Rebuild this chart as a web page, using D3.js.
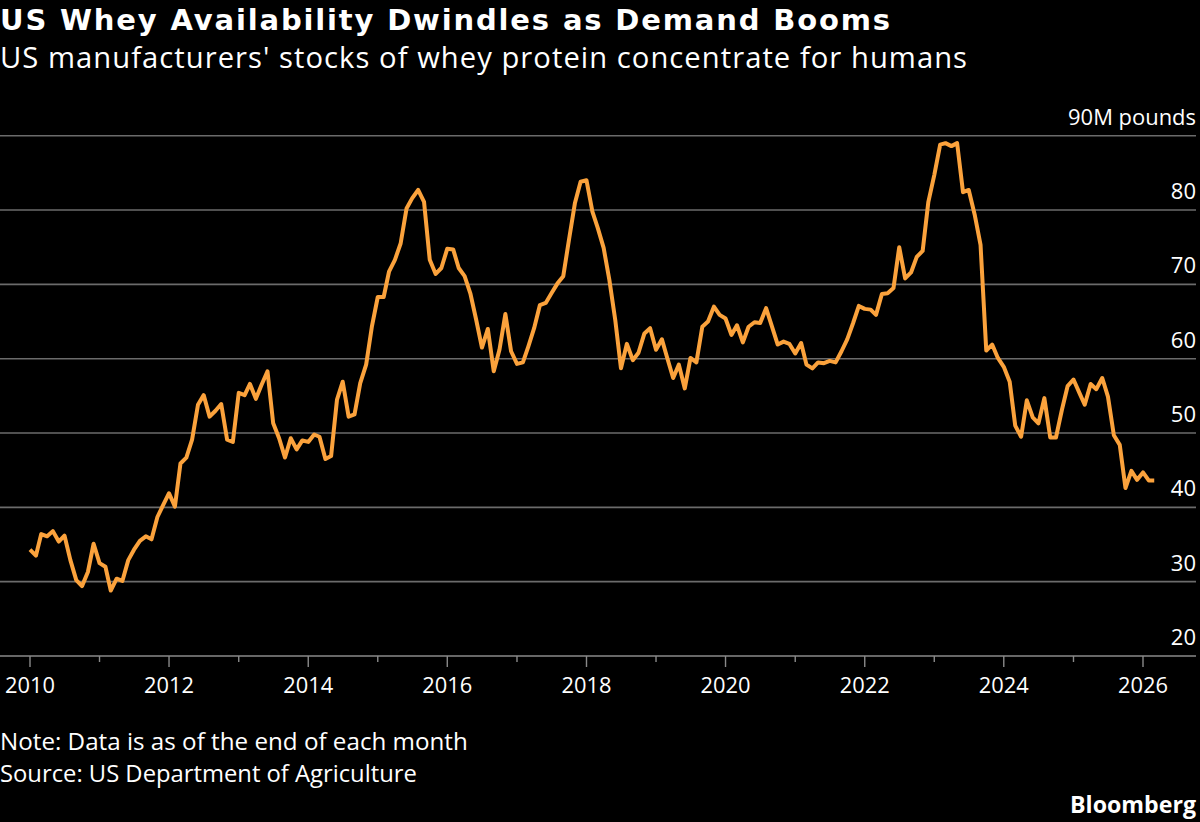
<!DOCTYPE html>
<html>
<head>
<meta charset="utf-8">
<script src="https://cdn.jsdelivr.net/npm/d3@7"></script>
<style>
  html, body { margin: 0; padding: 0; background: #000; }
  svg { display: block; }
  text { font-family: "Open Sans", "Noto Sans", sans-serif; fill: #fff; }
</style>
</head>
<body>
<svg id="chart" width="1200" height="822"></svg>
<script>
// ---- Data (month-end stocks, million pounds), monthly from Jan 2010 ----
const startYear = 2010;
const stocks = [
  34.3, 33.5, 36.4, 36.1, 36.8, 35.4, 36.2, 32.9, 30.2, 29.4, 31.3, 35.1,
  32.5, 32.0, 28.8, 30.4, 30.1, 32.9, 34.3, 35.5, 36.1, 35.7, 38.7, 40.3,
  41.9, 40.1, 45.9, 46.7, 49.1, 53.8, 55.1, 52.2, 53.0, 53.9, 49.1, 48.8,
  55.4, 55.1, 56.6, 54.6, 56.5, 58.3, 51.3, 49.3, 46.7, 49.3, 47.8, 49.0,
  48.8, 49.8, 49.5, 46.5, 46.9, 54.5, 56.9, 52.2, 52.5, 56.7, 59.2, 64.3,
  68.3, 68.3, 71.7, 73.3, 75.5, 80.2, 81.6, 82.7, 81.1, 73.3, 71.4, 72.2,
  74.8, 74.7, 72.2, 71.1, 68.8, 65.2, 61.5, 64.0, 58.3, 61.2, 66.0, 61.0,
  59.3, 59.5, 61.6, 64.1, 67.2, 67.5, 68.8, 70.1, 71.1, 76.0, 80.9, 83.8,
  84.0, 79.8, 77.6, 74.9, 70.6, 65.2, 58.7, 62.0, 59.8, 60.8, 63.4, 64.1,
  61.2, 62.6, 60.1, 57.4, 59.2, 56.0, 60.1, 59.5, 64.3, 65.0, 67.0, 65.9,
  65.4, 63.2, 64.5, 62.2, 64.3, 64.9, 64.8, 66.8, 64.3, 61.9, 62.3, 62.0,
  60.7, 62.1, 59.2, 58.7, 59.5, 59.4, 59.7, 59.5, 61.0, 62.6, 64.8, 67.1,
  66.7, 66.6, 65.9, 68.7, 68.8, 69.5, 75.0, 70.8, 71.6, 73.7, 74.5, 81.1,
  84.7, 88.8, 89.0, 88.6, 89.0, 82.4, 82.7, 79.4, 75.3, 61.1, 61.9, 60.1,
  58.9, 56.9, 51.0, 49.5, 54.4, 52.1, 51.3, 54.7, 49.4, 49.4, 53.1, 56.3,
  57.2, 55.4, 53.8, 56.6, 55.9, 57.4, 54.9, 49.7, 48.4, 42.6, 44.9, 43.7,
  44.7, 43.6, 43.6
];
const xTickYears = [2010, 2011, 2012, 2013, 2014, 2015, 2016, 2017, 2018, 2019, 2020, 2021, 2022, 2023, 2024, 2025, 2026];
const xLabelYears = [2010, 2012, 2014, 2016, 2018, 2020, 2022, 2024, 2026];
const yTicks = [20, 30, 40, 50, 60, 70, 80, 90];
const yTickLabels = ["20", "30", "40", "50", "60", "70", "80", "90M pounds"];

const titleText = "US Whey Availability Dwindles as Demand Booms";
const subtitleText = "US manufacturers' stocks of whey protein concentrate for humans";
const noteText = "Note: Data is as of the end of each month";
const sourceText = "Source: US Department of Agriculture";
const brandText = "Bloomberg";

// ---- Build ----
const data = stocks.map((v, i) => ({ date: new Date(startYear, i, 1), value: v }));

const svg = d3.select("#chart");
const W = 1200, H = 822;
svg.append("rect").attr("width", W).attr("height", H).attr("fill", "#000");

const x = d3.scaleTime()
  .domain([new Date(2010, 0, 1), new Date(2026, 0, 1)])
  .range([30, 1143]);
const y = d3.scaleLinear().domain([20, 90]).range([656, 135.7]);

const gridRight = 1196;

function fit(sel, target, maxSize) {
  const node = sel.node();
  const fs = parseFloat(sel.attr("font-size"));
  const len = node.getComputedTextLength();
  let size = fs * target / len;
  if (maxSize && size > maxSize) {
    size = maxSize;
    sel.attr("font-size", size.toFixed(2));
    const len2 = node.getComputedTextLength();
    const n = sel.text().length;
    sel.attr("letter-spacing", ((target - len2) / (n - 1)).toFixed(3));
  } else {
    sel.attr("font-size", size.toFixed(2));
  }
}

// gridlines
svg.append("g").selectAll("line")
  .data(yTicks.filter(d => d !== 20))
  .join("line")
  .attr("x1", 0).attr("x2", gridRight)
  .attr("y1", d => y(d)).attr("y2", d => y(d))
  .attr("stroke", "#6b6b6b").attr("stroke-width", 1.6);

// y labels
const yl = svg.append("g").selectAll("text")
  .data(yTicks)
  .join("text")
  .attr("x", gridRight)
  .attr("y", d => y(d) - 11)
  .attr("text-anchor", "end")
  .attr("font-size", 22)
  .text((d, i) => yTickLabels[i]);
fit(yl.filter(d => d === 90), 128);

// x axis baseline
svg.append("line")
  .attr("x1", 0).attr("x2", gridRight)
  .attr("y1", y(20)).attr("y2", y(20))
  .attr("stroke", "#8a8a8a").attr("stroke-width", 1.6);

// ticks
svg.append("g").selectAll("line")
  .data(xTickYears)
  .join("line")
  .attr("x1", d => x(new Date(d, 0, 1))).attr("x2", d => x(new Date(d, 0, 1)))
  .attr("y1", y(20))
  .attr("y2", d => y(20) + (xLabelYears.includes(d) ? 11 : 6))
  .attr("stroke", "#8a8a8a").attr("stroke-width", 1.4);

// x labels
const xl = svg.append("g").selectAll("text")
  .data(xLabelYears)
  .join("text")
  .attr("x", d => x(new Date(d, 0, 1)))
  .attr("y", 693)
  .attr("text-anchor", "middle")
  .attr("font-size", 22)
  .text(d => d);
fit(xl.filter(d => d === 2010), 50);
const xfs = xl.filter(d => d === 2010).attr("font-size");
xl.attr("font-size", xfs);

// line
const line = d3.line()
  .x(d => x(d.date))
  .y(d => y(d.value));
svg.append("path")
  .datum(data)
  .attr("d", line)
  .attr("fill", "none")
  .attr("stroke", "#fba23c")
  .attr("stroke-width", 4)
  .attr("stroke-linejoin", "round");

// titles
const t = svg.append("text").attr("x", 0).attr("y", 30)
  .style("font-family", "'DejaVu Sans', sans-serif")
  .attr("font-size", 28).attr("font-weight", 700).text(titleText);
fit(t, 890, 29);
const st = svg.append("text").attr("x", 0).attr("y", 68)
  .attr("font-size", 27).text(subtitleText);
fit(st, 967, 29.2);

// footer
const nt = svg.append("text").attr("x", 0).attr("y", 750)
  .attr("font-size", 22).text(noteText);
fit(nt, 468);
const so = svg.append("text").attr("x", 0).attr("y", 782)
  .attr("font-size", 22).text(sourceText);
fit(so, 417);
const br = svg.append("text").attr("x", 1196).attr("y", 813)
  .attr("text-anchor", "end")
  .attr("font-size", 23).attr("font-weight", 700).text(brandText);
fit(br, 126);
</script>
</body>
</html>
